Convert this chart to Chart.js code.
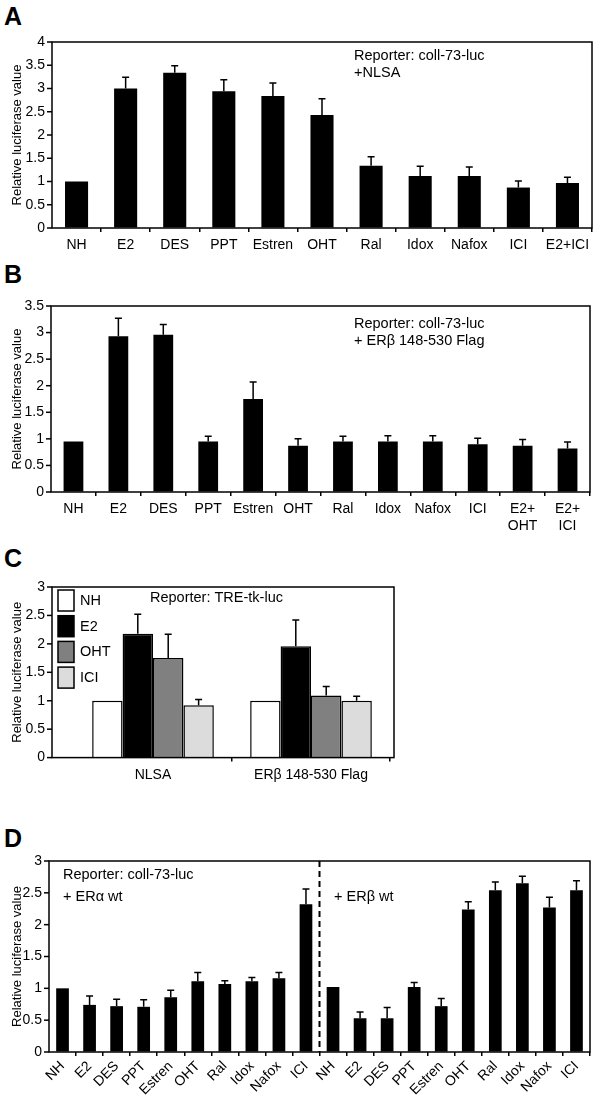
<!DOCTYPE html>
<html>
<head>
<meta charset="utf-8">
<script src="https://cdn.jsdelivr.net/npm/chart.js@4.4.0/dist/chart.umd.min.js"></script>
<style>
body{margin:0;background:#fff;width:600px;height:1097px;position:relative;overflow:hidden}
canvas{position:absolute;left:0}
.lt{position:absolute;left:4px;font:bold 25px "Liberation Sans",Arial,sans-serif;line-height:1;color:#000}
</style>
</head>
<body>
<div class="lt" style="top:4px">A</div>
<div class="lt" style="top:262px">B</div>
<div class="lt" style="top:546px">C</div>
<div class="lt" style="top:826px">D</div>
<canvas id="cA" width="600" height="265" style="top:0"></canvas>
<canvas id="cB" width="600" height="270" style="top:265px"></canvas>
<canvas id="cC" width="600" height="250" style="top:540px"></canvas>
<canvas id="cD" width="600" height="297" style="top:800px"></canvas>
<script>
"use strict";

// panel A: coll-73-luc + NLSA
const catsA = ['NH','E2','DES','PPT','Estren','OHT','Ral','Idox','Nafox','ICI','E2+ICI'];
const valsA = [1.0, 3.0, 3.34, 2.94, 2.84, 2.43, 1.34, 1.12, 1.12, 0.87, 0.97];
const errA  = [null, 3.24, 3.49, 3.19, 3.12, 2.78, 1.53, 1.33, 1.31, 1.01, 1.09];

// panel B: coll-73-luc + ERb 148-530 Flag
const catsB = ['NH','E2','DES','PPT','Estren','OHT','Ral','Idox','Nafox','ICI',['E2+','OHT'],['E2+','ICI']];
const valsB = [0.95, 2.93, 2.96, 0.95, 1.75, 0.87, 0.95, 0.95, 0.95, 0.90, 0.87, 0.82];
const errB  = [null, 3.27, 3.15, 1.05, 2.07, 1.0, 1.05, 1.06, 1.06, 1.01, 0.99, 0.94];

// panel C: TRE-tk-luc, grouped
const catsC   = ['NLSA','ERβ 148-530 Flag'];
const seriesC = ['NH','E2','OHT','ICI'];
const nhC  = [1.0, 1.0];
const e2C  = [2.18, 1.96], e2ErrC  = [2.52, 2.42];
const ohtC = [1.75, 1.09], ohtErrC = [2.17, 1.25];
const iciC = [0.92, 1.0],  iciErrC = [1.02, 1.08];

// panel D: ERa wt (first 10) / ERb wt (last 10)
const drugsD = ['NH','E2','DES','PPT','Estren','OHT','Ral','Idox','Nafox','ICI'];
const catsD  = drugsD.concat(drugsD);
const valsD  = [1.0, 0.74, 0.72, 0.71, 0.86, 1.11, 1.07, 1.11, 1.16, 2.32,
                1.02, 0.53, 0.53, 1.02, 0.72, 2.24, 2.54, 2.65, 2.27, 2.54];
const errD   = [null, 0.88, 0.83, 0.82, 0.97, 1.25, 1.12, 1.17, 1.25, 2.56,
                null, 0.63, 0.70, 1.09, 0.84, 2.36, 2.67, 2.76, 2.43, 2.69];

const FONT = '"Liberation Sans", Arial, sans-serif';
Chart.defaults.font.family = FONT;
Chart.defaults.color = '#000';

// box round the plot + y tick marks on its left side
const framePlugin = {
  id: 'frame',
  afterDraw(chart, args, o) {
    const {ctx, chartArea: a, scales: {y}} = chart;
    const l = a.left - (o.padLeft || 0), r = a.right + (o.padRight || 0);
    ctx.save();
    ctx.strokeStyle = '#000';
    ctx.lineWidth = 1.5;
    ctx.strokeRect(l, a.top, r - l, a.bottom - a.top);
    y.ticks.forEach(t => {
      const py = y.getPixelForValue(t.value);
      ctx.beginPath(); ctx.moveTo(l - 5, py); ctx.lineTo(l, py); ctx.stroke();
    });
    ctx.restore();
  }
};

// upper error bars, values in dataset.err
const errPlugin = {
  id: 'errbars',
  afterDatasetsDraw(chart) {
    const {ctx, scales: {y}} = chart;
    ctx.save();
    ctx.strokeStyle = '#000';
    ctx.lineWidth = 1.5;
    chart.data.datasets.forEach((ds, di) => {
      if (!ds.err) return;
      chart.getDatasetMeta(di).data.forEach((bar, i) => {
        const e = ds.err[i];
        if (e == null) return;
        const top = y.getPixelForValue(e);
        ctx.beginPath();
        ctx.moveTo(bar.x, bar.y); ctx.lineTo(bar.x, top);
        ctx.moveTo(bar.x - 3.5, top); ctx.lineTo(bar.x + 3.5, top);
        ctx.stroke();
      });
    });
    ctx.restore();
  }
};

// free text, dashed divider, inset legend
const extrasPlugin = {
  id: 'extras',
  afterDraw(chart, args, o) {
    const {ctx, chartArea: a, scales: {x}} = chart;
    ctx.save();
    ctx.fillStyle = '#000';
    ctx.font = '14.5px ' + FONT;
    ctx.textBaseline = 'middle';
    (o.notes || []).forEach(([t, px, py]) => ctx.fillText(t, px, py));
    if (o.divider != null) {
      const dx = (x.getPixelForValue(o.divider) + x.getPixelForValue(o.divider + 1)) / 2;
      ctx.strokeStyle = '#000'; ctx.lineWidth = 2; ctx.setLineDash([6, 4]);
      ctx.beginPath(); ctx.moveTo(dx, a.top); ctx.lineTo(dx, a.bottom); ctx.stroke();
      ctx.setLineDash([]);
    }
    if (o.legend) {
      const {lx, ly, step} = o.legend;
      chart.data.datasets.forEach((ds, i) => {
        const by = ly + i * step;
        ctx.fillStyle = ds.backgroundColor;
        ctx.fillRect(lx, by, 16, 21);
        ctx.strokeStyle = '#000'; ctx.lineWidth = 1.5;
        ctx.strokeRect(lx, by, 16, 21);
        ctx.fillStyle = '#000';
        ctx.fillText(ds.label, lx + 22, by + 11);
      });
    }
    ctx.restore();
  }
};

function edgeless(c) {
  const n = c.scale.ticks.length;
  return (c.index === 0 || c.index >= n) ? 'rgba(0,0,0,0)' : '#000';
}

// yW: y axis width (chart area left), fl: frame left, xH: x axis height
function opts(p) {
  return {
    responsive: false, animation: false,
    layout: {padding: {top: p.top, right: p.right, left: 0, bottom: 0}},
    plugins: {
      legend: {display: false}, tooltip: {enabled: false},
      frame: {padLeft: p.yW - p.fl, padRight: p.padRight || 0},
      extras: p.extras || {}
    },
    scales: {
      x: {
        grid: {drawOnChartArea: false, drawTicks: true, tickLength: 4, color: edgeless, lineWidth: 1.5},
        border: {display: false},
        ticks: {autoSkip: false, color: '#000', font: {size: p.xFont || 14}, padding: p.xPad || 5,
                minRotation: p.rot || 0, maxRotation: p.rot || 0},
        afterFit(s) { s.height = p.xH; }
      },
      y: {
        min: 0, max: p.max,
        grid: {drawOnChartArea: false, drawTicks: true, tickLength: 5, color: 'rgba(0,0,0,0)'},
        border: {display: false},
        ticks: {stepSize: 0.5, color: '#000', font: {size: 14}, padding: p.yW - 5 - (p.fl - 7),
                callback: v => String(v)},
        title: {display: true, text: 'Relative luciferase value', font: {size: 13}, padding: {top: 10, bottom: 0}},
        afterFit(s) { s.width = p.yW; }
      }
    }
  };
}

const plugins = [framePlugin, errPlugin, extrasPlugin];

new Chart(document.getElementById('cA'), {
  type: 'bar',
  data: {labels: catsA, datasets: [{data: valsA, err: errA, backgroundColor: '#000',
    barPercentage: 0.47, categoryPercentage: 1}]},
  options: opts({top: 42, right: 8, yW: 52, fl: 52, xH: 37, max: 4,
    extras: {notes: [['Reporter: coll-73-luc', 354, 56], ['+NLSA', 354, 73]]}}),
  plugins
});

new Chart(document.getElementById('cB'), {
  type: 'bar',
  data: {labels: catsB, datasets: [{data: valsB, err: errB, backgroundColor: '#000',
    barPercentage: 0.44, categoryPercentage: 1}]},
  options: opts({top: 41, right: 10, yW: 51, fl: 51, xH: 43, max: 3.5,
    extras: {notes: [['Reporter: coll-73-luc', 354, 59], ['+ ERβ 148-530 Flag', 354, 76]]}}),
  plugins
});

const cBar = {barPercentage: 1, categoryPercentage: 0.77, borderColor: '#000', borderWidth: 1.5};
new Chart(document.getElementById('cC'), {
  type: 'bar',
  data: {labels: catsC, datasets: [
    Object.assign({label: seriesC[0], data: nhC, backgroundColor: '#ffffff'}, cBar),
    Object.assign({label: seriesC[1], data: e2C, err: e2ErrC, backgroundColor: '#000000'}, cBar),
    Object.assign({label: seriesC[2], data: ohtC, err: ohtErrC, backgroundColor: '#808080'}, cBar),
    Object.assign({label: seriesC[3], data: iciC, err: iciErrC, backgroundColor: '#dcdcdc'}, cBar)
  ]},
  options: opts({top: 47, right: 210, yW: 74, fl: 52, xH: 25, max: 3, padRight: 4,
    extras: {notes: [['Reporter: TRE-tk-luc', 150, 58]], legend: {lx: 58, ly: 50, step: 25.7}}}),
  plugins
});

new Chart(document.getElementById('cD'), {
  type: 'bar',
  data: {labels: catsD, datasets: [{data: valsD, err: errD, backgroundColor: '#000',
    barPercentage: 0.47, categoryPercentage: 1}]},
  options: opts({top: 61, right: 10, yW: 49, fl: 49, xH: 45, max: 3, rot: 45, xPad: 2,
    extras: {divider: 9, notes: [['Reporter: coll-73-luc', 63, 75], ['+ ERα wt', 63, 97], ['+ ERβ wt', 334, 97]]}}),
  plugins
});
</script>
</body>
</html>
